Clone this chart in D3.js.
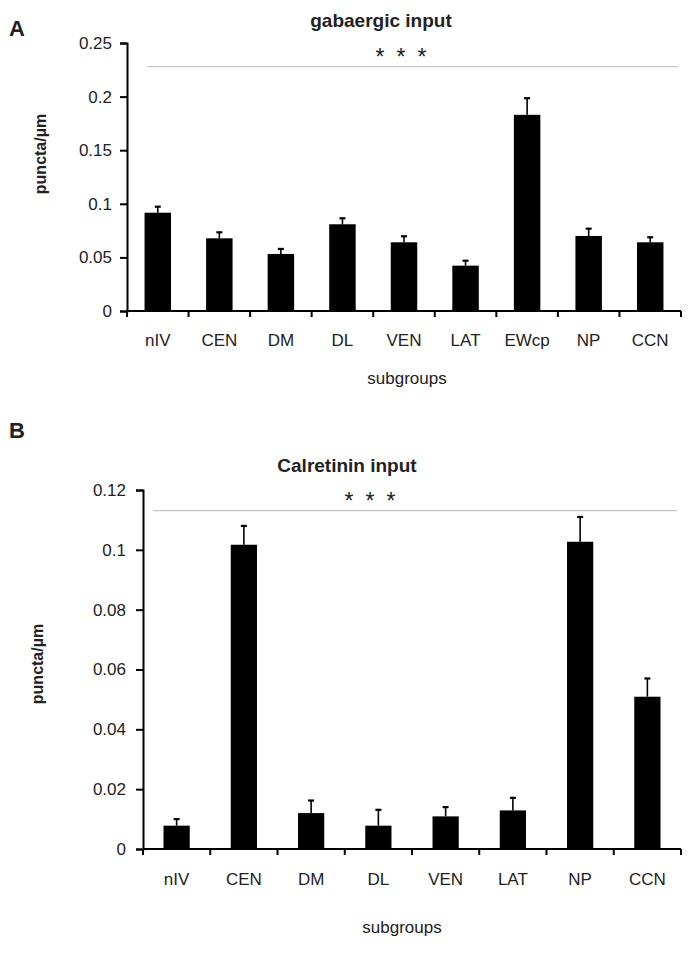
<!DOCTYPE html>
<html>
<head>
<meta charset="utf-8">
<script src="https://cdn.jsdelivr.net/npm/d3@7"></script>
<style>
  body { margin: 0; background: #fff; }
  svg text { font-family: "Liberation Sans", Arial, sans-serif; fill: #222; }
  .axis path, .axis line { stroke: #000; stroke-width: 2; }
</style>
</head>
<body>
<script>
// panel A - gabaergic input
var catsA = ['nIV','CEN','DM','DL','VEN','LAT','EWcp','NP','CCN'],
    meanA = [0.0917,0.0678,0.0532,0.0809,0.0641,0.0423,0.1830,0.0700,0.0641],
    errA  = [0.0056,0.0056,0.0047,0.0056,0.0056,0.0046,0.0155,0.0068,0.0047],
    ticksA = [0,0.05,0.1,0.15,0.2,0.25];

// panel B - calretinin input
var catsB = ['nIV','CEN','DM','DL','VEN','LAT','NP','CCN'],
    meanB = [0.0078,0.1017,0.0120,0.0078,0.0109,0.0129,0.1027,0.0509],
    errB  = [0.0022,0.0063,0.0042,0.0053,0.0031,0.0042,0.0083,0.0061],
    ticksB = [0,0.02,0.04,0.06,0.08,0.1,0.12];

var w = 696, h = 954;
var svg = d3.select('body').append('svg')
  .attr('width', w)
  .attr('height', h);

function panel(cfg){
  var g = svg.append('g');
  var x = d3.scaleBand()
    .domain(cfg.cats)
    .range([cfg.left, cfg.right])
    .paddingInner(cfg.pad)
    .paddingOuter(cfg.pad / 2);
  var y = d3.scaleLinear()
    .domain([0, cfg.max])
    .range([cfg.bottom, cfg.top]);

  // bracket line + stars
  g.append('line')
    .attr('x1', cfg.lineX[0]).attr('x2', cfg.lineX[1])
    .attr('y1', y(cfg.sig)).attr('y2', y(cfg.sig))
    .attr('stroke', '#c8c8c8').attr('stroke-width', 1.2);
  g.selectAll('text.star').data([-21, 0, 21]).enter().append('text')
    .attr('class', 'star')
    .attr('x', function(d){ return cfg.starX + d; })
    .attr('y', y(cfg.sig) - 2)
    .attr('text-anchor', 'middle')
    .style('font-size', '23px')
    .text('*');

  // y axis
  var ya = g.append('g')
    .attr('class', 'axis')
    .attr('transform', 'translate(' + cfg.left + ',0)')
    .call(d3.axisLeft(y).tickValues(cfg.ticks).tickSize(7).tickPadding(cfg.tpad)
      .tickFormat(function(d){ return d3.format('')(+d.toFixed(3)); }));
  ya.selectAll('text').style('font-size', '17px').attr('fill', '#222');

  // x axis with ticks between bands
  var xa = g.append('g')
    .attr('class', 'axis')
    .attr('transform', 'translate(0,' + cfg.bottom + ')');
  xa.append('line')
    .attr('x1', cfg.left).attr('x2', cfg.right);
  var bounds = cfg.cats.map(function(c){ return x(c) - x.step() * cfg.pad / 2; });
  bounds.push(cfg.right);
  xa.selectAll('line.tk').data(bounds).enter().append('line')
    .attr('class', 'tk')
    .attr('x1', function(d){ return d; }).attr('x2', function(d){ return d; })
    .attr('y1', 0).attr('y2', 6);
  xa.selectAll('text').data(cfg.cats).enter().append('text')
    .attr('x', function(d){ return x(d) + x.bandwidth() / 2; })
    .attr('y', cfg.labY - cfg.bottom)
    .attr('text-anchor', 'middle')
    .style('font-size', '17px')
    .text(function(d){ return d; });

  // error bars
  var eb = g.selectAll('g.err').data(cfg.cats).enter().append('g').attr('class','err');
  eb.append('line')
    .attr('x1', function(d){ return x(d) + x.bandwidth() / 2; })
    .attr('x2', function(d){ return x(d) + x.bandwidth() / 2; })
    .attr('y1', function(d,i){ return y(cfg.mean[i]); })
    .attr('y2', function(d,i){ return y(cfg.mean[i] + cfg.err[i]); })
    .attr('stroke', '#000').attr('stroke-width', 1.6);
  eb.append('line')
    .attr('x1', function(d){ return x(d) + x.bandwidth() / 2 - 3; })
    .attr('x2', function(d){ return x(d) + x.bandwidth() / 2 + 3; })
    .attr('y1', function(d,i){ return y(cfg.mean[i] + cfg.err[i]); })
    .attr('y2', function(d,i){ return y(cfg.mean[i] + cfg.err[i]); })
    .attr('stroke', '#000').attr('stroke-width', 2.2);

  // bars
  g.selectAll('rect').data(cfg.cats).enter().append('rect')
    .attr('x', function(d){ return x(d); })
    .attr('width', x.bandwidth())
    .attr('y', function(d,i){ return y(cfg.mean[i]); })
    .attr('height', function(d,i){ return cfg.bottom - y(cfg.mean[i]); })
    .attr('fill', '#000');

  // titles + labels
  g.append('text')
    .attr('x', cfg.titleX).attr('y', cfg.titleY)
    .attr('text-anchor', 'middle')
    .style('font-size', '19px').style('font-weight', 'bold')
    .text(cfg.title);
  g.append('text')
    .attr('x', 9).attr('y', cfg.letterY)
    .style('font-size', '22px').style('font-weight', 'bold')
    .attr('fill', '#000')
    .text(cfg.letter);
  g.append('text')
    .attr('transform', 'translate(' + cfg.ylabX + ',' + cfg.ylabY + ') rotate(-90)')
    .attr('text-anchor', 'middle')
    .style('font-size', '16px').style('font-weight', 'bold')
    .text('puncta/\u00b5m');
  g.append('text')
    .attr('x', cfg.subX).attr('y', cfg.subY)
    .attr('text-anchor', 'middle')
    .style('font-size', '17px')
    .text('subgroups');
}

panel({
  cats: catsA, mean: meanA, err: errA, ticks: ticksA, max: 0.25,
  left: 127, right: 681, top: 43, bottom: 311, pad: 0.57, tpad: 8,
  sig: 0.228, lineX: [147, 678], starX: 401,
  labY: 346, title: 'gabaergic input', titleX: 381, titleY: 27,
  letter: 'A', letterY: 36, ylabX: 46, ylabY: 154, subX: 407, subY: 384
});

panel({
  cats: catsB, mean: meanB, err: errB, ticks: ticksB, max: 0.12,
  left: 143, right: 681, top: 490, bottom: 849, pad: 0.61, tpad: 10,
  sig: 0.1131, lineX: [153, 677], starX: 370,
  labY: 885, title: 'Calretinin input', titleX: 347, titleY: 472,
  letter: 'B', letterY: 438, ylabX: 43, ylabY: 664, subX: 402, subY: 933
});
</script>
</body>
</html>
